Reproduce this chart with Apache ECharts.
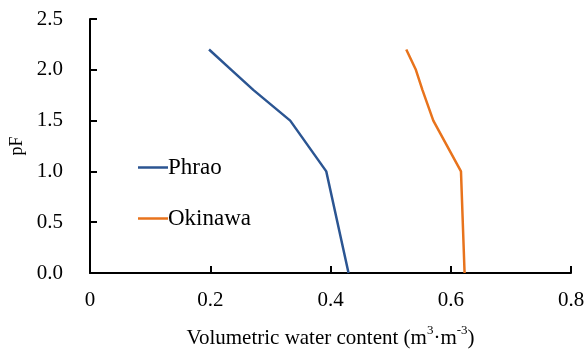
<!DOCTYPE html>
<html><head><meta charset="utf-8">
<script src="https://cdn.jsdelivr.net/npm/echarts@6/dist/echarts.min.js"></script>
<style>html,body{margin:0;padding:0;background:#fff}#c{width:585px;height:350px}</style>
</head><body><div id="c"></div>
<script>
const seriesNames = ["Phrao", "Okinawa"];
const pF = [2.2, 2.0, 1.8, 1.5, 1.0, 0.0];
const phraoWC = [0.198, 0.235, 0.272, 0.333, 0.393, 0.430];
const okinawaWC = [0.526, 0.542, 0.553, 0.571, 0.617, 0.623];
const xTicks = [0, 0.2, 0.4, 0.6, 0.8];
const yTicks = [0, 0.5, 1.0, 1.5, 2.0, 2.5];

const font = "'Liberation Serif','Times New Roman',serif";
const chart = echarts.init(document.getElementById('c'), null, {renderer: 'canvas'});
const axisCommon = {
  axisLine: {show: true, lineStyle: {color: '#000', width: 2}},
  axisTick: {show: true, inside: true, length: 7, lineStyle: {color: '#000', width: 2}},
  splitLine: {show: false},
  axisLabel: {color: '#000', fontFamily: font, fontSize: 21}
};
chart.setOption({
  animation: false,
  grid: {left: 90, right: 14, top: 19, bottom: 77, containLabel: false, outerBoundsMode: 'none'},
  legend: {
    orient: 'vertical', left: 133, top: 151, itemGap: 28,
    itemWidth: 30, itemHeight: 14, icon: 'path://M0,6 L30,6 L30,8.5 L0,8.5 Z',
    textStyle: {color: '#000', fontFamily: font, fontSize: 23, lineHeight: 23, padding: [0,0,0,-5]},
    data: seriesNames
  },
  xAxis: Object.assign({}, axisCommon, {
    type: 'value', min: xTicks[0], max: xTicks[xTicks.length-1], interval: 0.2,
    name: '{n|Volumetric water content (m}{s|3}{n|·m}{s|-3}{n|)}', nameLocation: 'middle', nameGap: 51,
    nameTextStyle: {color: '#000', fontFamily: font, fontSize: 21,
      rich: {
        n: {fontFamily: font, fontSize: 21, lineHeight: 25, verticalAlign: 'bottom', color: '#000'},
        s: {fontFamily: font, fontSize: 13, lineHeight: 13, verticalAlign: 'top', color: '#000'}
      }},
    axisLabel: Object.assign({}, axisCommon.axisLabel, {margin: 17, formatter: v => String(v)})
  }),
  yAxis: Object.assign({}, axisCommon, {
    type: 'value', min: yTicks[0], max: yTicks[yTicks.length-1], interval: 0.5,
    name: 'pF', nameLocation: 'middle', nameGap: 61,
    nameTextStyle: {color: '#000', fontFamily: font, fontSize: 18},
    axisLabel: Object.assign({}, axisCommon.axisLabel, {margin: 27, formatter: v => v.toFixed(1)})
  }),
  series: [
    {name: seriesNames[0], type: 'line', data: phraoWC.map((x,i)=>[x,pF[i]]), symbol: 'none',
     lineStyle: {color: '#2B5592', width: 2.5}, itemStyle: {color: '#2B5592'}},
    {name: seriesNames[1], type: 'line', data: okinawaWC.map((x,i)=>[x,pF[i]]), symbol: 'none',
     lineStyle: {color: '#E8731C', width: 2.5}, itemStyle: {color: '#E8731C'}}
  ]
});
</script></body></html>
